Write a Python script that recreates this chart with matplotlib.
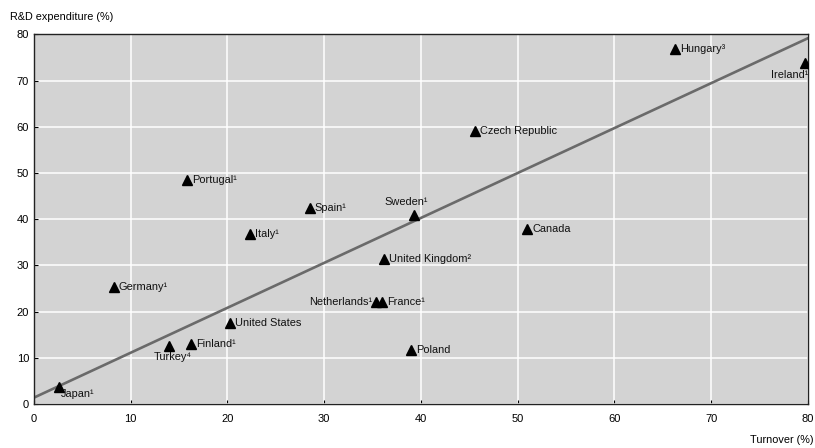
import matplotlib
matplotlib.use("Agg")
import matplotlib.pyplot as plt

plt.rcParams['font.family'] = ['Liberation Sans Narrow', 'Liberation Sans', 'DejaVu Sans']

# turnover share (x) vs R&D expenditure share (y), %
countries = ["Japan¹", "Germany¹", "Turkey⁴", "Finland¹", "United States",
             "Portugal¹", "Italy¹", "Spain¹", "Sweden¹", "United Kingdom²",
             "Netherlands¹", "France¹", "Poland", "Canada", "Czech Republic",
             "Hungary³", "Ireland¹"]
turnover = [2.6, 8.25, 14.0, 16.2, 20.3, 15.8, 22.3, 28.5, 39.3, 36.2,
            35.4, 36.0, 39.0, 51.0, 45.6, 66.3, 79.7]
rd_exp = [3.7, 25.4, 12.6, 12.9, 17.6, 48.6, 36.9, 42.4, 40.9, 31.3,
          22.0, 22.0, 11.7, 37.9, 59.1, 76.8, 73.9]

# label offsets (pixels) and alignment
offsets = {
    "Japan¹": (2, -7, 'left'),
    "Turkey⁴": (3, -11, 'center'),
    "Sweden¹": (-8, 13, 'center'),
    "Netherlands¹": (-4, 0, 'right'),
    "Ireland¹": (3, -12, 'right'),
}

trend_x = [0, 80]
trend_y = [1.4, 79.2]

fig = plt.figure(figsize=(8.15, 4.48), dpi=100)
ax = fig.add_axes([0.0417, 0.098, 0.9497, 0.825])
ax.set_facecolor('#d3d3d3')

ax.plot(trend_x, trend_y, color='#6a6a6a', lw=1.9, zorder=2)
ax.plot(turnover, rd_exp, linestyle='none', marker='^', color='black',
        markersize=6.5, zorder=3)

for name, x, y in zip(countries, turnover, rd_exp):
    dx, dy, ha = offsets.get(name, (5, 0, 'left'))
    ax.annotate(name, (x, y), xytext=(dx, dy), textcoords='offset pixels',
                ha=ha, va='center', fontsize=7.9, color='#111111', zorder=4)

ax.set_xlim(0, 80)
ax.set_ylim(0, 80)
ax.set_xticks(range(0, 81, 10))
ax.set_yticks(range(0, 81, 10))
ax.grid(True, color='white', lw=1.1)
ax.set_axisbelow(True)
ax.tick_params(direction='in', length=3, labelsize=8, width=0.8)
ax.tick_params(axis='x', pad=7)
for s in ax.spines.values():
    s.set_color('#222222')
    s.set_linewidth(1.0)

fig.text(10 / 815, 1 - 17 / 448, "R&D expenditure (%)", fontsize=7.8,
         ha='left', va='center')
fig.text(813 / 815, 1 - 440 / 448, "Turnover (%)", fontsize=7.8,
         ha='right', va='center')

fig.savefig("out.png", dpi=100)
